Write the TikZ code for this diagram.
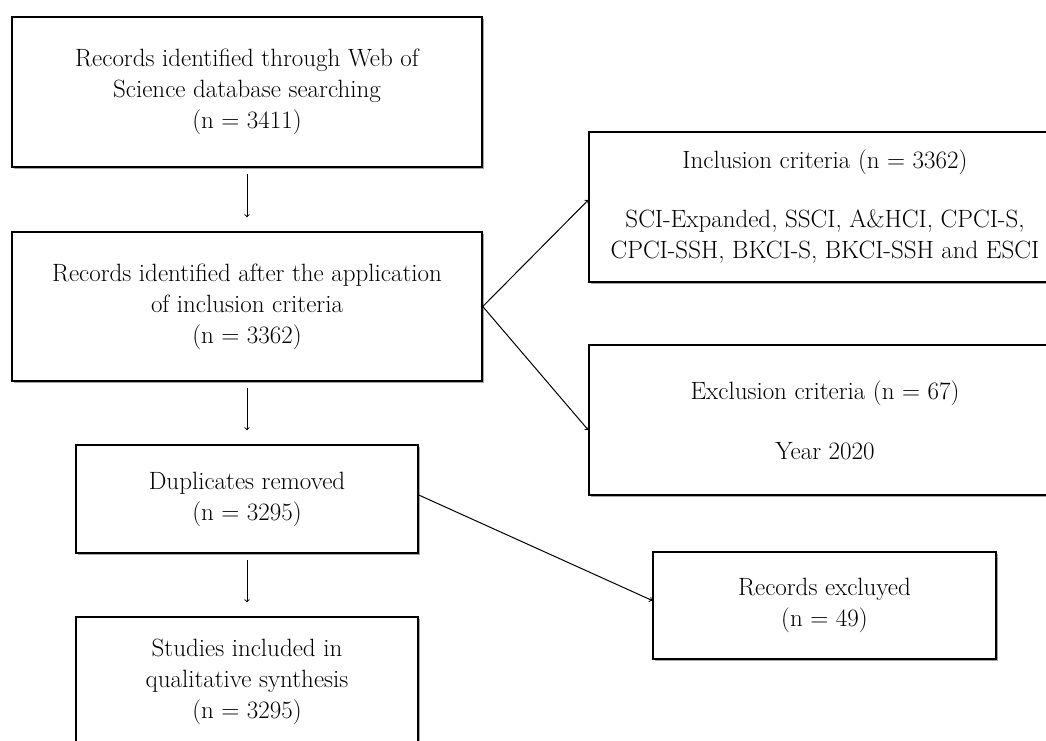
\documentclass[tikz,border=0pt]{standalone}
\usetikzlibrary{arrows,shadows}
\begin{document}
\begin{tikzpicture}[x=1pt,y=-1pt,>=to,
     box/.style={rectangle,draw,line width=1.5pt,align=center,inner sep=0pt,fill=white,
                 font=\fontsize{25}{31}\selectfont,
                 drop shadow={shadow xshift=1.5pt,shadow yshift=-2pt,opacity=.35,fill=black}},
     flow/.style={->,line width=1pt,shorten <=6pt,shorten >=14pt},
     side/.style={->,line width=1pt}]
     \useasboundingbox (0,0) rectangle (1046,740);
     \clip (0,0) rectangle (1046,740);
     % left column
     \node[box,minimum width=470pt,minimum height=150pt] (wos) at (247,92)
          {Records identified through Web of\\Science database searching\\(n = 3411)};
     \node[box,minimum width=470pt,minimum height=149pt] (incl) at (247,306.5)
          {Records identified after the application\\of inclusion criteria\\(n = 3362)};
     \node[box,minimum width=342pt,minimum height=108pt] (dup) at (247,499)
          {Duplicates removed\\(n = 3295)};
     \node[box,minimum width=342pt,minimum height=130pt] (stud) at (247,682)
          {Studies included in\\qualitative synthesis\\(n = 3295)};
     % right column
     \node[box,minimum width=472pt,minimum height=150pt] (crit) at (825,207)
          {Inclusion criteria (n = 3362)\\[28pt]SCI-Expanded, SSCI, A\&HCI, CPCI-S,\\CPCI-SSH, BKCI-S, BKCI-SSH and ESCI};
     \node[box,minimum width=472pt,minimum height=150pt] (excl) at (825,420)
          {Exclusion criteria (n = 67)\\[29pt]Year 2020};
     \node[box,minimum width=343pt,minimum height=107pt] (rex) at (824.5,605.5)
          {Records excluyed\\(n = 49)};
     \draw[flow] (wos) -- (incl); \draw[flow] (incl) -- (dup); \draw[flow] (dup) -- (stud);
     \draw[side] (incl.east) -- ([yshift=7pt]crit.west);
     \draw[side] (incl.east) -- ([yshift=-10pt]excl.west);
     \draw[side] ([yshift=4pt]dup.east) -- ([yshift=5pt]rex.west);
\end{tikzpicture}
\end{document}
